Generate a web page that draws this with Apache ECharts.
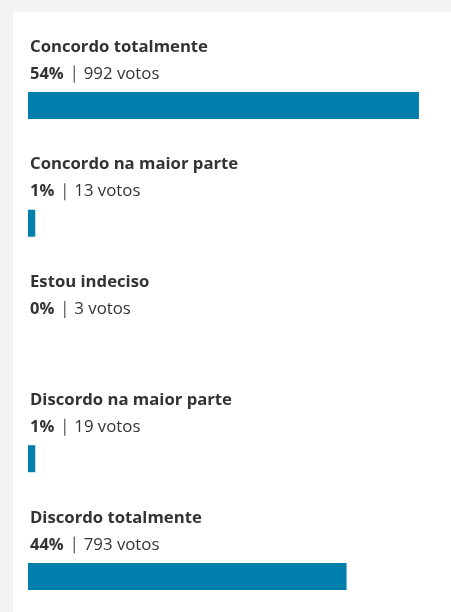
<!DOCTYPE html>
<html>
<head>
<meta charset="utf-8">
<script src="https://cdn.jsdelivr.net/npm/echarts@6/dist/echarts.min.js"></script>
<style>
  html, body { margin: 0; padding: 0; background: #f3f3f3; }
  #main { width: 451px; height: 612px; }
</style>
</head>
<body>
<div id="main"></div>
<script>
var chartDom = document.getElementById('main');
var myChart = echarts.init(chartDom);
var option;

// poll answers
const answers = [
  'Concordo totalmente',
  'Concordo na maior parte',
  'Estou indeciso',
  'Discordo na maior parte',
  'Discordo totalmente'
];
const percents = [54, 1, 0, 1, 44];
const votes = [992, 13, 3, 19, 793];

option = {
  backgroundColor: '#f3f3f3',
  animation: false,
  textStyle: { fontFamily: 'Open Sans' },
  graphic: [
    {
      type: 'rect',
      z: -10,
      shape: { x: 13, y: 12, width: 438, height: 600 },
      style: { fill: '#fff' }
    }
  ],
  grid: {
    left: 28,
    top: 46.6,
    width: 724,
    height: 588.75,
    outerBoundsMode: 'none'
  },
  xAxis: {
    type: 'value',
    min: 0,
    max: 100,
    show: false
  },
  yAxis: {
    type: 'category',
    data: answers,
    inverse: true,
    axisLine: { show: false },
    axisTick: { show: false },
    axisLabel: {
      interval: 0,
      margin: -2,
      align: 'left',
      verticalAlign: 'bottom',
      padding: [0, 0, 18, 0],
      formatter: function (value, index) {
        return '{t|' + value + '}\n' +
          '{p|' + percents[index] + '%}{s| }{v|' + votes[index] + ' votos}';
      },
      rich: {
        t: { fontFamily: 'Open Sans', fontSize: 16.7, fontWeight: 'bold', color: '#333', lineHeight: 27 },
        p: { fontFamily: 'Open Sans', fontSize: 16.5, fontWeight: 'bold', color: '#333', lineHeight: 27, padding: [0, 10, 0, 0] },
        s: { width: 1, height: 17, fontSize: 16, backgroundColor: '#333', lineHeight: 27 },
        v: { fontFamily: 'Open Sans', fontSize: 16.8, color: '#333', lineHeight: 27, padding: [0, 0, 0, 9] }
      }
    }
  },
  series: [
    {
      type: 'bar',
      data: percents,
      barWidth: 27,
      itemStyle: { color: '#007fad' }
    }
  ]
};

option && myChart.setOption(option);
</script>
</body>
</html>
